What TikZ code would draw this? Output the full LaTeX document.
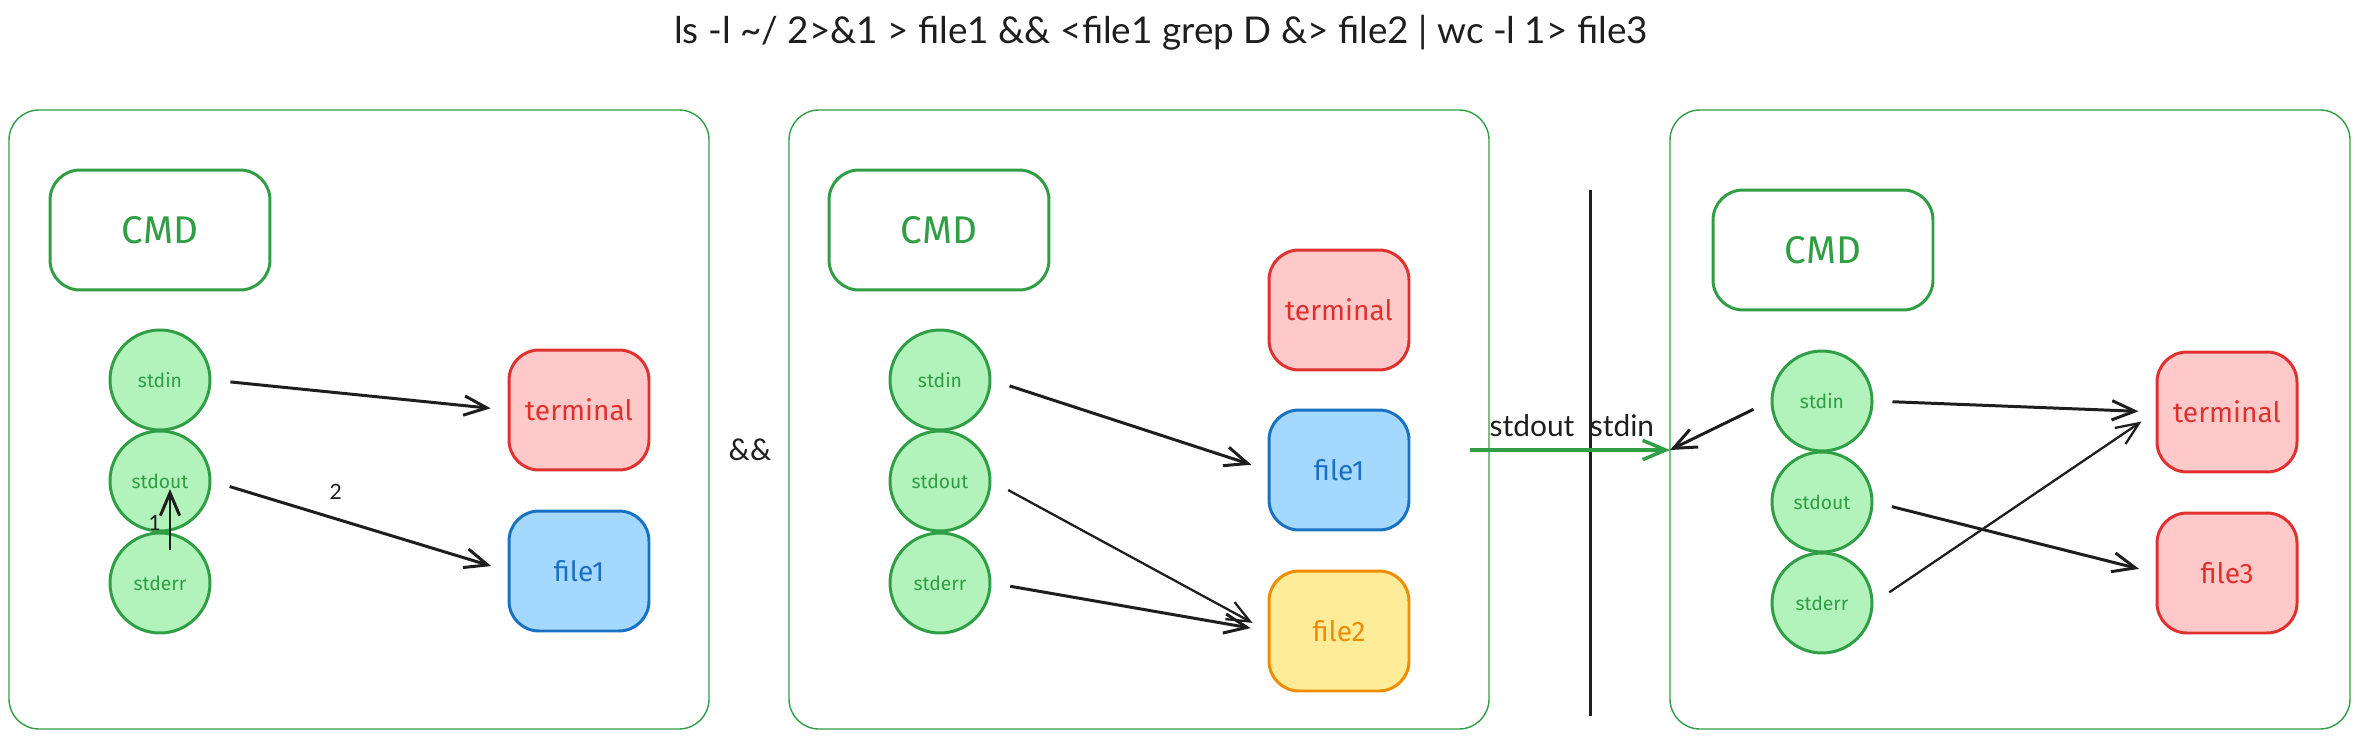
\documentclass[tikz,border=0pt]{standalone}
\usepackage{fontspec}
\setmainfont{Lato}
\newfontfamily\hand{Fira Sans}
\usetikzlibrary{arrows.meta}

\definecolor{xgreen}{HTML}{2F9E44}
\definecolor{lgreen}{HTML}{B2F2BB}
\definecolor{xred}{HTML}{E03131}
\definecolor{lred}{HTML}{FFC9C9}
\definecolor{xblue}{HTML}{1971C2}
\definecolor{lblue}{HTML}{A5D8FF}
\definecolor{xorange}{HTML}{F08C00}
\definecolor{lyellow}{HTML}{FFEC99}
\definecolor{xblack}{HTML}{1E1E1E}

\tikzset{
  panel/.style={draw=xgreen, line width=0.8pt, rounded corners=0.6cm},
  cmdbox/.style={draw=xgreen, line width=1.7pt, rounded corners=0.6cm,
    minimum width=4.4cm, minimum height=2.4cm, text=xgreen,
    font=\hand\fontsize{22}{22}\selectfont},
  chan/.style={circle, draw=xgreen, fill=lgreen, line width=1.7pt,
    minimum size=2cm, inner sep=0pt, text=xgreen,
    font=\hand\fontsize{11}{11}\selectfont},
  target/.style={rounded corners=0.6cm, line width=1.7pt,
    minimum width=2.8cm, minimum height=2.4cm,
    font=\hand\fontsize{16}{16}\selectfont},
  redbox/.style={target, draw=xred, fill=lred, text=xred},
  bluebox/.style={target, draw=xblue, fill=lblue, text=xblue},
  yellowbox/.style={target, draw=xorange, fill=lyellow, text=xorange},
  flow/.style={draw=xblack, line width=1.7pt,
    -{Straight Barb[length=13pt,width=11pt]},
    shorten <=0.38cm, shorten >=0.34cm},
  thinflow/.style={flow, line width=1.3pt},
  lbl/.style={text=xblack, font=\fontsize{17}{17}\selectfont},
  small/.style={text=xblack, font=\fontsize{12}{12}\selectfont}
}

\begin{document}
\begin{tikzpicture}[x=0.02cm, y=-0.02cm]
  %%%%% START %%%%%
  \useasboundingbox (0,0) rectangle (2360,740);

  \node[text=xblack, font=\fontsize{21}{24}\selectfont] (title) at (1161,33)
    {ls -l \textasciitilde/ 2>\&1 > file1 \&\& <file1 grep D \&> file2 | wc -l 1> file3};

  \draw[panel] (9,110) rectangle (709,729);
  \draw[panel] (789,110) rectangle (1489,729);
  \draw[panel] (1670,110) rectangle (2350,729);

  % ls -l ~/ 2>&1 > file1
  \node[cmdbox] (cmdA) at (160,230) {CMD};
  \node[chan] (inA) at (160,380) {stdin};
  \node[chan] (outA) at (160,481) {stdout};
  \node[chan] (errA) at (160,583) {stderr};
  \node[redbox] (termA) at (579,410) {terminal};
  \node[bluebox] (fileA) at (579,571) {file1};

  \draw[flow] (inA.east) -- (termA.west);
  \draw[flow] (outA.east) -- (fileA.west) node[small, pos=0.42, above=7pt] {2};
  \draw[flow, shorten <=0pt, shorten >=0pt] ([shift={(10,-33)}]errA.center) -- ([shift={(10,8)}]outA.center)
    node[small, pos=0.45, left=1pt] {1};

  \node[lbl] (and) at (750,450) {\&\&};

  % <file1 grep D &> file2
  \node[cmdbox] (cmdB) at (939,230) {CMD};
  \node[chan] (inB) at (940,380) {stdin};
  \node[chan] (outB) at (940,481) {stdout};
  \node[chan] (errB) at (940,583) {stderr};
  \node[redbox] (termB) at (1339,310) {terminal};
  \node[bluebox] (fileB1) at (1339,470) {file1};
  \node[yellowbox] (fileB2) at (1339,631) {file2};

  \draw[flow] (inB.east) -- (fileB1.west);
  \draw[thinflow] (outB.east) -- (fileB2.west);
  \draw[flow] (errB.east) -- (fileB2.west);

  % pipe
  \coordinate (pipeout) at (1470,450);
  \coordinate (pipein) at (1670,450);
  \coordinate (bartop) at (1590,190);
  \coordinate (barbot) at (1590,716);
  \draw[xblack, line width=1.7pt] (bartop) -- (barbot);
  \draw[flow, draw=xgreen, line width=2pt, shorten <=0pt, shorten >=0pt] (pipeout) -- (pipein);
  \node[lbl] (pout) at (1532,426) {stdout};
  \node[lbl] (pin) at (1622,426) {stdin};

  % wc -l 1> file3
  \node[cmdbox] (cmdC) at (1823,250) {CMD};
  \node[chan] (inC) at (1822,401) {stdin};
  \node[chan] (outC) at (1822,502) {stdout};
  \node[chan] (errC) at (1822,603) {stderr};
  \node[redbox] (termC) at (2227,412) {terminal};
  \node[redbox] (fileC) at (2227,573) {file3};

  \draw[flow, shorten >=0pt] (inC.west) -- (pipein);
  \draw[flow] (inC.east) -- (termC.west);
  \draw[flow] (outC.east) -- (fileC.west);
  \draw[thinflow] (errC.east) -- (termC.west);
  %%%%% END %%%%%
\end{tikzpicture}
\end{document}
